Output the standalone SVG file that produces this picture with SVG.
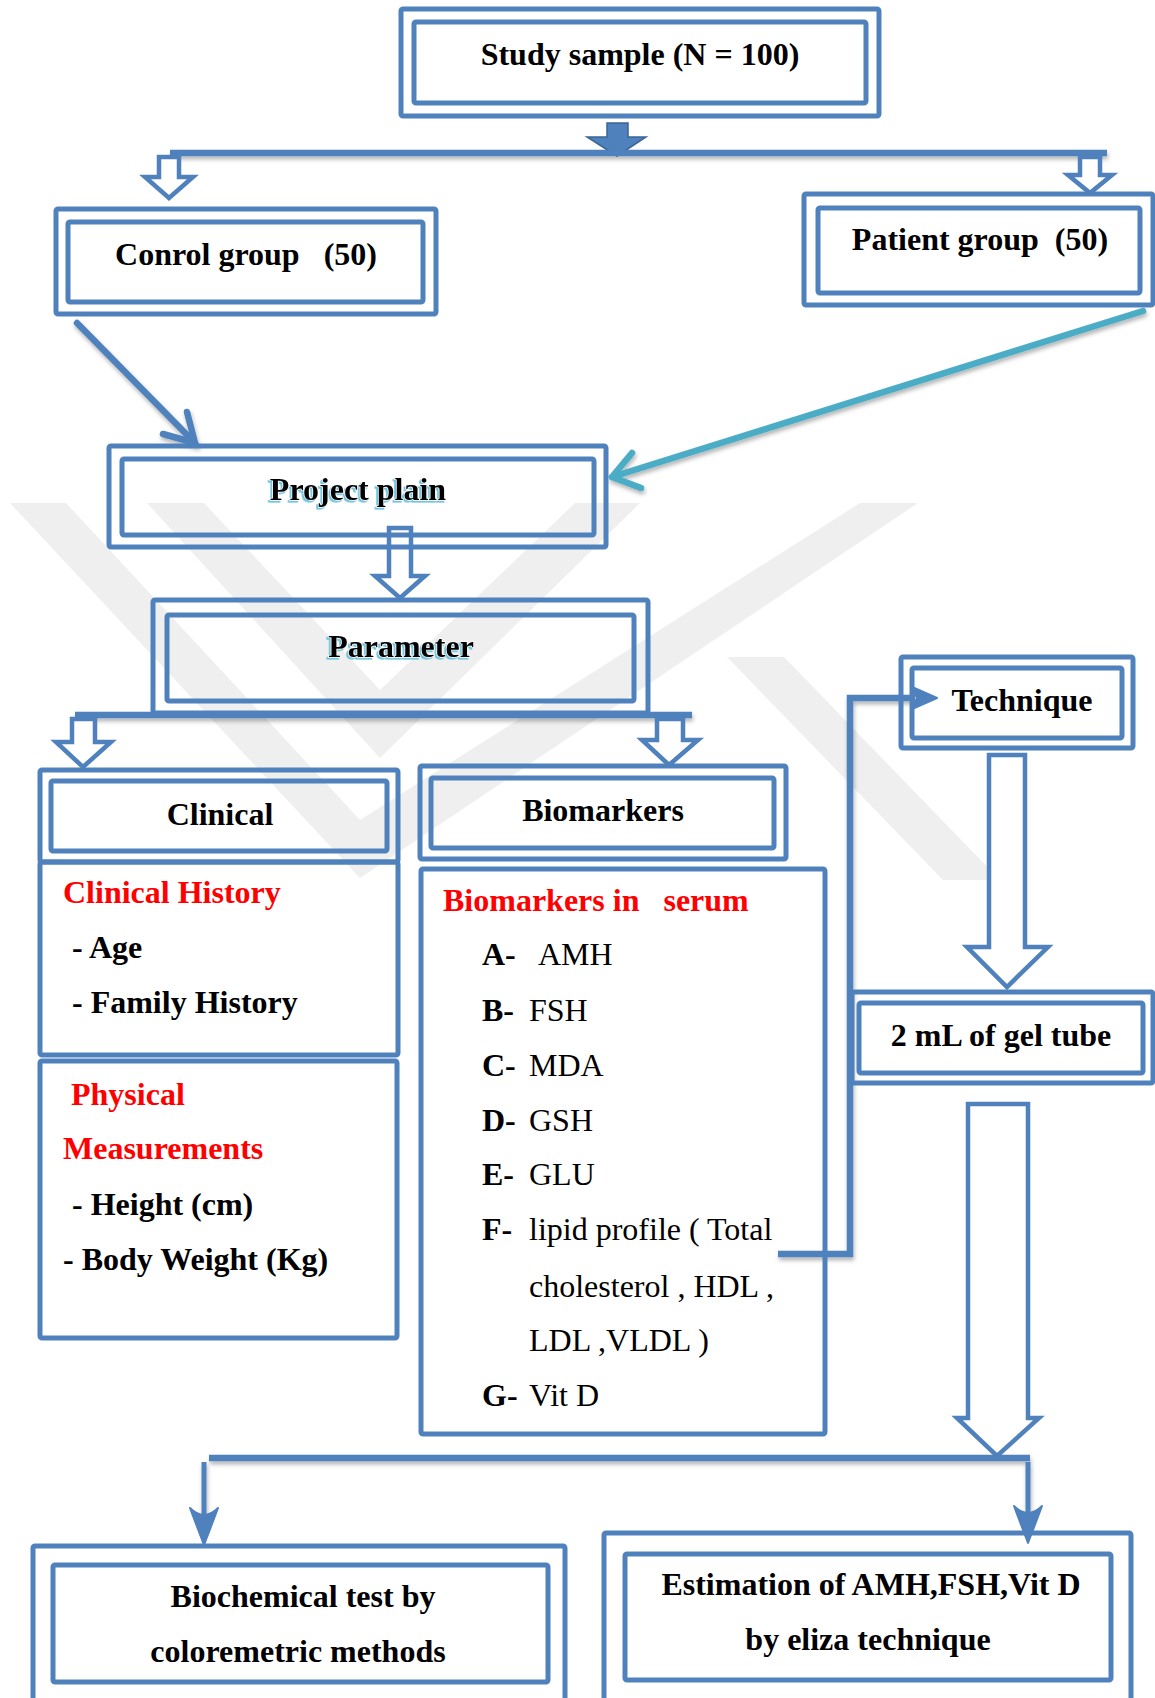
<svg xmlns="http://www.w3.org/2000/svg" width="1155" height="1698" viewBox="0 0 1155 1698">
<style>
.o{fill:none;stroke:#4f81bd;stroke-width:5;stroke-linejoin:round}
.t{font-family:"Liberation Serif","Times New Roman",serif;font-size:32px;font-weight:bold;fill:#000}
.c{text-anchor:middle}
.r{fill:#ff0000}
.n{font-weight:normal}
.ln{fill:none;stroke:#4f81bd;stroke-width:6.5}
.ha{fill:#fff;stroke:#4f81bd;stroke-width:4.5;stroke-linejoin:miter}
.wm{fill:#efefef}
.sd{stroke:#fff;stroke-width:1.4;paint-order:stroke}
</style>
<defs>
<filter id="sh" filterUnits="userSpaceOnUse" x="0" y="0" width="1155" height="1698">
<feDropShadow dx="1" dy="3" stdDeviation="2" flood-color="#000" flood-opacity="0.3"/>
</filter>
<filter id="ts" filterUnits="userSpaceOnUse" x="0" y="0" width="1155" height="1698">
<feDropShadow dx="-1.8" dy="1.8" stdDeviation="0.2" flood-color="#6fc3dc" flood-opacity="1"/>
</filter>
</defs>
<rect width="1155" height="1698" fill="#fff"/>
<g id="watermark">
<polygon class="wm" points="10,503 66,503 360,820 860,503 918,503 360,878"/>
<polygon class="wm" points="147,503 204,503 380,690 575,503 640,503 380,758"/>
<polygon class="wm" points="727,657 784,657 1000,880 943,880"/>
</g>
<g id="connectors">
<path d="M607,123 H628 V137 H646 L617,156 L587,137 H607 Z" fill="#4f81bd" stroke="#3a6698" stroke-width="1.5"/>
<line class="ln" x1="170" y1="153" x2="1107" y2="153" filter="url(#sh)"/>
<path class="ha" d="M159,157 H179 V177 H193 L169,198 L145,177 H159 Z"/>
<path class="ha" d="M1080,157 H1100 V175 H1112 L1090,193 L1068,175 H1080 Z"/>
<g stroke="#4f81bd" stroke-width="6.5" stroke-linecap="round" fill="none" filter="url(#sh)">
<line x1="77" y1="323" x2="195" y2="443"/>
<polyline points="163,434 195,443 187,412"/>
</g>
<g stroke="#4bacc6" stroke-width="6.5" stroke-linecap="round" stroke-linejoin="round" fill="none" filter="url(#sh)">
<line x1="1143" y1="311" x2="612" y2="477"/>
<polyline points="632,453 612,477 641,488"/>
</g>
<path class="ha" d="M389,528 H411 V576 H425 L400,598 L375,576 H389 Z"/>
<line class="ln" x1="75" y1="715" x2="692" y2="715" stroke-width="7" filter="url(#sh)"/>
<path class="ha" d="M72,719 H95 V742 H111 L83,767 L56,742 H72 Z"/>
<path class="ha" d="M657,719 H683 V740 H698 L669,765 L642,740 H657 Z"/>
<polyline class="ln" points="778,1254 850,1254 850,698 915,698" filter="url(#sh)"/>
<path d="M912,687 L937,698 L912,709 L917,698 Z" fill="#4f81bd" stroke="#4f81bd" stroke-width="2" stroke-linejoin="round"/>
<path class="ha" d="M989,755 H1025 V947 H1048 L1007,987 L967,947 H989 Z"/>
<path class="ha" d="M968,1104 H1028 V1418 H1039 L997,1456 L957,1418 H968 Z"/>
<line class="ln" x1="209" y1="1458" x2="1030" y2="1458" stroke-width="7" filter="url(#sh)"/>
<g stroke="#4f81bd" stroke-width="5" fill="none" filter="url(#sh)">
<line x1="204" y1="1462" x2="204" y2="1530"/>
<line x1="1028" y1="1462" x2="1028" y2="1528"/>
</g>
<path d="M204,1545 L190,1508 Q204,1522 218,1508 Z" fill="#4f81bd" stroke="#4f81bd" stroke-width="2" stroke-linejoin="round"/>
<path d="M1028,1543 L1014,1506 Q1028,1520 1042,1506 Z" fill="#4f81bd" stroke="#4f81bd" stroke-width="2" stroke-linejoin="round"/>
</g>
<g id="study">
<rect class="o" x="401" y="9" width="478" height="107" rx="2"/>
<rect class="o" x="414" y="22" width="452" height="81" rx="2"/>
<text class="t c" x="640" y="65">Study sample (N = 100)</text>
</g>
<g id="control">
<rect class="o" x="56" y="209" width="380" height="105" rx="2"/>
<rect class="o" x="68" y="222" width="355" height="80" rx="2"/>
<text class="t c" x="246" y="265" xml:space="preserve">Conrol group   (50)</text>
</g>
<g id="patient">
<rect class="o" x="804" y="194" width="349" height="111" rx="2"/>
<rect class="o" x="818" y="208" width="322" height="85" rx="2"/>
<text class="t c" x="980" y="250" xml:space="preserve">Patient group  (50)</text>
</g>
<g id="project">
<rect class="o" x="109" y="446" width="497" height="101" rx="2"/>
<rect class="o" x="122" y="459" width="472" height="76" rx="2"/>
<text class="t c sd" x="358" y="500" filter="url(#ts)">Project plain</text>
</g>
<g id="parameter">
<rect class="o" x="153" y="600" width="495" height="113" rx="2"/>
<rect class="o" x="167" y="615" width="467" height="86" rx="2"/>
<text class="t c sd" x="401" y="657" filter="url(#ts)">Parameter</text>
</g>
<g id="clinical">
<rect class="o" x="40" y="770" width="358" height="92" rx="2"/>
<rect class="o" x="51" y="781" width="336" height="70" rx="2"/>
<text class="t c" x="220" y="825">Clinical</text>
</g>
<g id="clinical-history">
<rect class="o" x="40" y="862" width="358" height="193" rx="2"/>
<text class="t r" x="63" y="903">Clinical History</text>
<text class="t" x="72" y="958">- Age</text>
<text class="t" x="72" y="1013">- Family History</text>
</g>
<g id="physical">
<rect class="o" x="40" y="1061" width="357" height="277" rx="2"/>
<text class="t r" x="71" y="1105">Physical</text>
<text class="t r" x="63" y="1159">Measurements</text>
<text class="t" x="72" y="1215">- Height (cm)</text>
<text class="t" x="63" y="1270">- Body Weight (Kg)</text>
</g>
<g id="biomarkers">
<rect class="o" x="420" y="766" width="366" height="93" rx="2"/>
<rect class="o" x="431" y="778" width="343" height="70" rx="2"/>
<text class="t c" x="603" y="821">Biomarkers</text>
</g>
<g id="biomarkers-list">
<rect class="o" x="421" y="869" width="404" height="565" rx="2"/>
<text class="t r" x="443" y="911" xml:space="preserve">Biomarkers in   serum</text>
<text class="t" x="482" y="965">A-</text><text class="t n" x="538" y="965">AMH</text>
<text class="t" x="482" y="1021">B-</text><text class="t n" x="529" y="1021">FSH</text>
<text class="t" x="482" y="1076">C-</text><text class="t n" x="529" y="1076">MDA</text>
<text class="t" x="482" y="1131">D-</text><text class="t n" x="529" y="1131">GSH</text>
<text class="t" x="482" y="1185">E-</text><text class="t n" x="529" y="1185">GLU</text>
<text class="t" x="482" y="1240">F-</text><text class="t n" x="529" y="1240">lipid profile ( Total</text>
<text class="t n" x="529" y="1297">cholesterol , HDL ,</text>
<text class="t n" x="529" y="1351">LDL ,VLDL )</text>
<text class="t" x="482" y="1406">G-</text><text class="t n" x="529" y="1406">Vit D</text>
</g>
<g id="technique">
<rect class="o" x="901" y="657" width="232" height="91" rx="2"/>
<rect class="o" x="912" y="668" width="210" height="70" rx="2"/>
<text class="t c" x="1022" y="711">Technique</text>
</g>
<g id="geltube">
<rect class="o" x="852" y="992" width="301" height="91" rx="2"/>
<rect class="o" x="859" y="1003" width="284" height="70" rx="2"/>
<text class="t c" x="1001" y="1046">2 mL of gel tube</text>
</g>
<g id="biochemical">
<rect class="o" x="33" y="1546" width="532" height="200" rx="2"/>
<rect class="o" x="53" y="1565" width="495" height="117" rx="2"/>
<text class="t c" x="303" y="1607">Biochemical test by</text>
<text class="t c" x="298" y="1662">coloremetric methods</text>
</g>
<g id="estimation">
<rect class="o" x="604" y="1533" width="527" height="200" rx="2"/>
<rect class="o" x="625" y="1554" width="486" height="126" rx="2"/>
<text class="t c" x="871" y="1595">Estimation of AMH,FSH,Vit D</text>
<text class="t c" x="868" y="1650">by eliza technique</text>
</g>
</svg>
